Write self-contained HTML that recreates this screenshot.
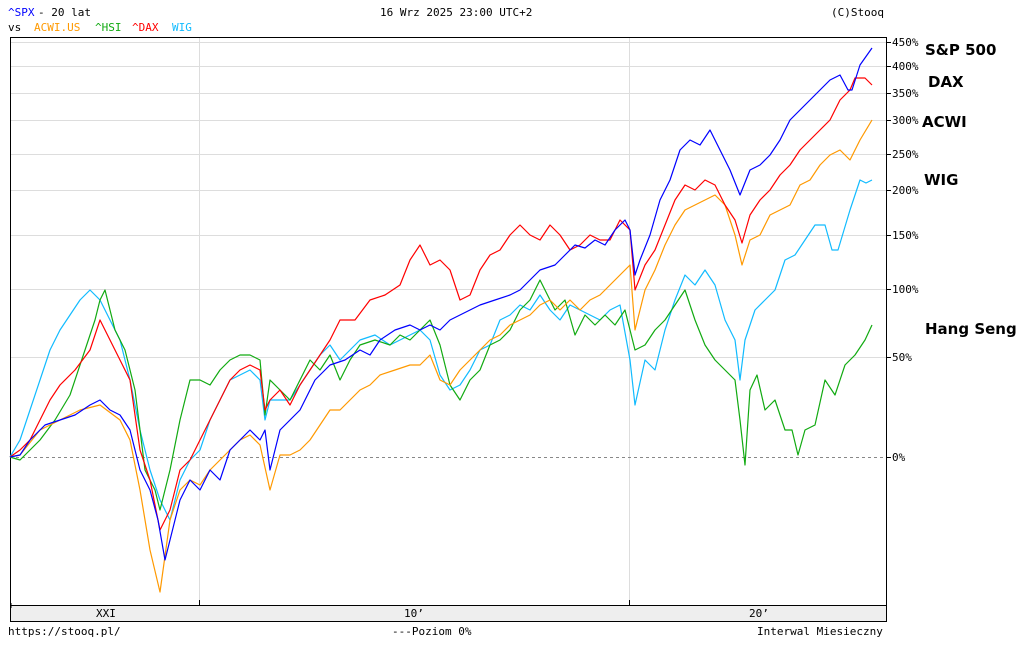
<!DOCTYPE html>
<html><head><meta charset="utf-8"><style>
body{margin:0;background:#fff;width:1027px;height:649px;overflow:hidden}
svg text{font-family:"DejaVu Sans Mono","Liberation Mono",monospace;font-size:11px}
svg text.lbl{font-family:"DejaVu Sans","Liberation Sans",sans-serif;font-weight:bold;font-size:15px;fill:#000}
</style></head><body>
<svg width="1027" height="649" xmlns="http://www.w3.org/2000/svg">
<text x="8" y="16" fill="#00f">^SPX</text><text x="38" y="16" fill="#000">- 20 lat</text>
<text x="380" y="16" fill="#000">16 Wrz 2025 23:00 UTC+2</text>
<text x="831" y="16" fill="#000">(C)Stooq</text>
<text x="8" y="31" fill="#000">vs</text>
<text x="34" y="31" fill="#f90">ACWI.US</text>
<text x="95" y="31" fill="#1a1">^HSI</text>
<text x="132" y="31" fill="#f00">^DAX</text>
<text x="172" y="31" fill="#1bf">WIG</text>
<g stroke="#ddd" stroke-width="1">
<line x1="10" x2="886" y1="42.5" y2="42.5"/><line x1="10" x2="886" y1="66.5" y2="66.5"/>
<line x1="10" x2="886" y1="93.5" y2="93.5"/><line x1="10" x2="886" y1="120.5" y2="120.5"/>
<line x1="10" x2="886" y1="154.5" y2="154.5"/><line x1="10" x2="886" y1="190.5" y2="190.5"/>
<line x1="10" x2="886" y1="235.5" y2="235.5"/><line x1="10" x2="886" y1="289.5" y2="289.5"/>
<line x1="10" x2="886" y1="357.5" y2="357.5"/>
<line x1="199.5" x2="199.5" y1="37" y2="605"/><line x1="629.5" x2="629.5" y1="37" y2="605"/>
</g>
<line x1="10" x2="886" y1="457.5" y2="457.5" stroke="#888" stroke-dasharray="3,3"/>
<rect x="10.5" y="37.5" width="876" height="568" fill="none" stroke="#000"/>
<rect x="10.5" y="605.5" width="876" height="16" fill="#eee" stroke="#000"/>
<line x1="11" y1="603" x2="11" y2="608" stroke="#000"/>
<g stroke="#000"><line x1="199.5" x2="199.5" y1="600" y2="605"/><line x1="629.5" x2="629.5" y1="600" y2="605"/>
<line x1="886" x2="891" y1="42.5" y2="42.5"/><line x1="886" x2="891" y1="66.5" y2="66.5"/><line x1="886" x2="891" y1="93.5" y2="93.5"/><line x1="886" x2="891" y1="120.5" y2="120.5"/><line x1="886" x2="891" y1="154.5" y2="154.5"/><line x1="886" x2="891" y1="190.5" y2="190.5"/><line x1="886" x2="891" y1="235.5" y2="235.5"/><line x1="886" x2="891" y1="289.5" y2="289.5"/><line x1="886" x2="891" y1="357.5" y2="357.5"/><line x1="886" x2="891" y1="457.5" y2="457.5"/></g>
<g font-size="10" fill="#000">
<text x="892" y="46">450%</text><text x="892" y="70">400%</text><text x="892" y="97">350%</text><text x="892" y="124">300%</text><text x="892" y="158">250%</text><text x="892" y="194">200%</text><text x="892" y="239">150%</text><text x="892" y="293">100%</text><text x="892" y="361">50%</text><text x="892" y="461">0%</text>
</g>
<text x="96" y="617">XXI</text><text x="404" y="617">10’</text><text x="749" y="617">20’</text>
<text x="8" y="635">https://stooq.pl/</text>
<text x="392" y="635" fill="#000">---Poziom 0%</text>
<text x="757" y="635">Interwal Miesieczny</text>
<text class="lbl" x="925" y="55">S&amp;P 500</text>
<text class="lbl" x="928" y="87">DAX</text>
<text class="lbl" x="922" y="127">ACWI</text>
<text class="lbl" x="924" y="185">WIG</text>
<text class="lbl" x="925" y="334">Hang Seng</text>
<g fill="none" stroke-width="1.2" stroke-linejoin="round">
<polyline stroke="#1bf" points="10,457 20,440 30,410 40,380 50,350 60,330 70,315 80,300 90,290 100,300 110,320 120,340 130,380 140,430 150,470 160,500 170,520 180,480 190,460 200,450 210,420 220,400 230,380 240,375 250,370 260,380 265,420 270,400 280,400 290,400 300,385 310,370 320,355 330,345 340,360 350,350 360,340 375,335 390,345 400,340 410,335 420,330 430,340 440,375 450,390 460,385 470,370 480,350 490,345 500,320 510,315 520,305 530,310 540,295 550,310 560,320 570,305 580,310 590,315 600,320 610,310 620,305 630,360 635,405 645,360 655,370 665,330 675,300 685,275 695,285 705,270 715,285 725,320 735,340 740,380 745,340 755,310 765,300 775,290 785,260 795,255 805,240 815,225 825,225 832,250 838,250 850,210 860,180 866,183 872,180"/>
<polyline stroke="#1a1" points="10,457 20,460 30,450 40,440 55,420 70,395 85,350 95,320 100,300 105,290 115,330 125,350 135,390 145,470 155,490 160,510 170,470 180,420 190,380 200,380 210,385 220,370 230,360 240,355 250,355 260,360 265,415 270,380 280,390 290,400 300,380 310,360 320,370 330,355 340,380 350,360 360,345 375,340 390,345 400,335 410,340 420,330 430,320 440,345 450,385 460,400 470,380 480,370 490,345 500,340 510,330 520,310 530,300 540,280 545,290 555,310 565,300 575,335 585,315 595,325 605,315 615,325 625,310 635,350 645,345 655,330 665,320 675,305 685,290 695,320 705,345 715,360 725,370 735,380 740,420 745,465 750,390 757,375 765,410 775,400 785,430 792,430 798,455 805,430 815,425 825,380 835,395 845,365 855,355 865,340 872,325"/>
<polyline stroke="#f90" points="10,457 20,455 40,430 60,420 80,410 100,405 120,420 130,440 140,490 150,550 160,592 170,520 180,490 190,480 200,485 210,470 220,460 230,450 240,440 250,435 260,445 270,490 280,455 290,455 300,450 310,440 320,425 330,410 340,410 350,400 360,390 370,385 380,375 395,370 410,365 420,365 430,355 440,380 450,385 460,370 470,360 480,350 490,340 500,335 510,325 520,320 530,315 540,305 550,300 560,310 570,300 580,310 590,300 600,295 610,285 620,275 630,265 635,330 645,290 655,270 665,245 675,225 685,210 695,205 705,200 715,195 725,205 735,235 742,265 750,240 760,235 770,215 780,210 790,205 800,185 810,180 820,165 830,155 840,150 850,160 860,140 872,120"/>
<polyline stroke="#f00" points="10,457 20,450 30,440 40,420 50,400 60,385 75,370 90,350 100,320 110,340 120,360 130,380 140,450 150,480 160,530 170,510 180,470 190,460 200,440 210,420 220,400 230,380 240,370 250,365 260,370 265,410 270,400 280,390 290,405 300,385 310,370 320,355 330,340 340,320 355,320 370,300 385,295 400,285 410,260 420,245 430,265 440,260 450,270 460,300 470,295 480,270 490,255 500,250 510,235 520,225 530,235 540,240 550,225 560,235 570,250 580,245 590,235 600,240 610,240 620,220 630,230 635,290 645,265 655,250 665,225 675,200 685,185 695,190 705,180 715,185 725,205 735,220 742,243 750,215 760,200 770,190 780,175 790,165 800,150 810,140 820,130 830,120 840,100 850,90 855,78 865,78 872,85"/>
<polyline stroke="#00f" points="10,457 20,455 30,440 45,425 60,420 75,415 90,405 100,400 110,410 120,415 130,430 140,470 150,490 158,520 165,560 170,540 180,500 190,480 200,490 210,470 220,480 230,450 240,440 250,430 260,440 265,430 270,470 280,430 290,420 300,410 315,380 330,365 345,360 360,350 370,355 380,340 395,330 410,325 420,330 430,325 440,330 450,320 460,315 470,310 480,305 495,300 510,295 520,290 530,280 540,270 555,265 565,255 575,245 585,248 595,240 605,245 615,230 625,220 630,230 635,275 640,260 650,235 660,200 670,180 680,150 690,140 700,145 710,130 720,150 730,170 740,195 750,170 760,165 770,155 780,140 790,120 800,110 810,100 820,90 830,80 840,75 848,90 852,90 860,65 872,48"/>
</g>
</svg>
</body></html>
